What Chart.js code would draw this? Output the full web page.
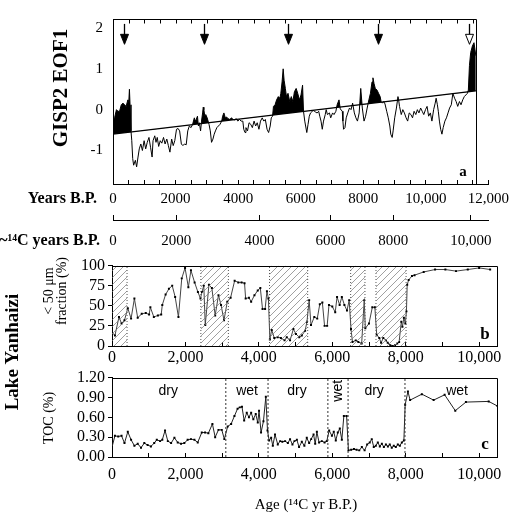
<!DOCTYPE html>
<html>
<head>
<meta charset="utf-8">
<script src="https://cdn.jsdelivr.net/npm/chart.js@4.4.1/dist/chart.umd.min.js"></script>
<style>
  html, body { margin: 0; background: #fff; }
  #fig { position: relative; width: 519px; height: 517px; overflow: hidden; }
  #fig canvas { position: absolute; left: 0; }
</style>
</head>
<body>
<div id="fig">
  <canvas id="panelA" width="519" height="255" style="top:0"></canvas>
  <canvas id="panelB" width="519" height="175" style="top:250px"></canvas>
  <canvas id="panelC" width="519" height="152" style="top:365px"></canvas>
</div>
<script>
// panel a: GISP2 EOF1 on calendar years B.P.
const eofYears = [
  0, 50, 110, 160, 210, 265, 320, 370, 420, 475,
  505, 525, 545, 575, 600, 630, 660, 715, 755, 800,
  840, 890, 940, 995, 1045, 1095, 1150, 1200, 1250, 1280,
  1335, 1375, 1415, 1460, 1510, 1560, 1615, 1665, 1720, 1770,
  1820, 1875, 1925, 1975, 2030, 2080, 2130, 2185, 2235, 2285,
  2340, 2390, 2440, 2495, 2545, 2600, 2630, 2660, 2700, 2730,
  2760, 2800, 2830, 2865, 2885, 2905, 2935, 2965, 3010, 3040,
  3070, 3110, 3150, 3195, 3235, 3275, 3320, 3370, 3420, 3475,
  3505, 3545, 3590, 3630, 3680, 3735, 3785, 3840, 3890, 3940,
  3990, 4045, 4095, 4150, 4180, 4220, 4250, 4300, 4350, 4405,
  4455, 4510, 4560, 4610, 4665, 4715, 4770, 4820, 4870, 4925,
  4975, 5025, 5060, 5100, 5130, 5180, 5230, 5285, 5335, 5365,
  5405, 5440, 5470, 5510, 5545, 5595, 5650, 5700, 5750, 5800,
  5855, 5905, 5960, 6010, 6060, 6090, 6130, 6195, 6235, 6275,
  6315, 6370, 6420, 6470, 6525, 6575, 6610, 6650, 6690, 6730,
  6785, 6815, 6855, 6920, 6960, 7020, 7065, 7125, 7165, 7225,
  7265, 7330, 7350, 7370, 7415, 7455, 7505, 7560, 7610, 7660,
  7715, 7765, 7815, 7870, 7920, 7970, 8025, 8075, 8125, 8180,
  8230, 8280, 8310, 8345, 8385, 8440, 8490, 8540, 8570, 8615,
  8655, 8695, 8750, 8800, 8850, 8880, 8925, 8955, 9005, 9060,
  9110, 9130, 9160, 9215, 9265, 9315, 9370, 9420, 9470, 9525,
  9575, 9625, 9680, 9730, 9780, 9835, 9885, 9935, 9990, 10040,
  10090, 10145, 10195, 10250, 10300, 10330, 10370, 10400, 10435, 10475,
  10515, 10555, 10610, 10660, 10710, 10760, 10815, 10865, 10920, 10970,
  11020, 11075, 11125, 11180, 11230, 11280, 11330, 11360, 11395, 11435,
  11490, 11540, 11570, 11600,
]
const eofValues = [
  -0.25, -0.2, 0.0, -0.04, -0.04, 0.12, 0.16, 0.12, 0.08, 0.24,
  0.2, 0.5, 0.12, -0.52, -0.76, -1.2, -1.36, -1.24, -1.4, -1.16,
  -0.96, -0.84, -1.0, -0.76, -0.96, -0.8, -0.68, -0.92, -1.16, -0.76,
  -0.64, -0.8, -0.68, -0.9, -0.76, -0.82, -0.68, -0.84, -0.72, -0.88,
  -1.04, -0.72, -0.88, -0.76, -0.48, -0.46, -0.52, -0.84, -0.88, -0.84,
  -0.86, -0.52, -0.4, -0.44, -0.36, -0.2, -0.28, -0.24, -0.16, -0.4,
  -0.32, -0.52, -0.28, -0.08, 0.06, 0.0, -0.16, -0.12, -0.2, -0.28,
  -0.36, -0.52, -0.8, -0.72, -0.6, -0.52, -0.44, -0.4, -0.36, -0.28,
  -0.16, -0.08, -0.2, -0.18, -0.22, -0.24, -0.2, -0.24, -0.25, -0.22,
  -0.28, -0.24, -0.28, -0.28, -0.48, -0.56, -0.44, -0.52, -0.32, -0.36,
  -0.44, -0.28, -0.4, -0.32, -0.48, -0.28, -0.2, -0.28, -0.24, -0.48,
  -0.56, -0.4, -0.2, -0.16, 0.08, 0.12, 0.24, 0.32, 0.28, 0.4,
  0.68, 1.0, 0.72, 0.52, 0.32, 0.4, 0.2, 0.32, 0.2, 0.44,
  0.52, 0.4, 0.24, 0.36, 0.6, -0.04, -0.28, -0.56, -0.36, -0.16,
  -0.08, -0.04, -0.02, -0.06, -0.08, -0.04, -0.16, -0.28, -0.48, -0.28,
  -0.12, 0.0, -0.12, -0.08, -0.2, -0.08, -0.12, -0.04, 0.12, 0.24,
  0.02, -0.04, -0.28, -0.48, -0.44, -0.2, -0.08, 0.04, 0.0, 0.16,
  -0.08, -0.2, -0.28, -0.08, 0.52, 0.04, -0.28, -0.16, 0.04, 0.24,
  0.4, 0.68, 0.78, 0.64, 0.52, 0.48, 0.4, 0.32, 0.2, 0.16,
  0.2, 0.14, -0.04, -0.2, -0.4, -0.6, -0.68, -0.52, -0.2, 0.04,
  0.32, 0.24, 0.08, -0.12, 0.0, -0.08, -0.2, -0.28, -0.08, -0.12,
  -0.2, -0.04, -0.12, 0.0, -0.08, 0.04, -0.04, -0.12, 0.0, 0.08,
  -0.16, -0.08, -0.28, 0.0, 0.16, 0.28, 0.12, -0.04, -0.28, -0.48,
  -0.6, -0.44, -0.28, -0.2, -0.08, 0.04, 0.12, 0.4, 0.28, 0.2,
  0.08, 0.2, 0.12, 0.24, 0.32, 0.36, 0.4, 0.48, 1.08, 1.4,
  1.56, 1.64, 1.48, 1.32,
]
const trendYears = [0, 11600]
const trendValues = [-0.6, 0.46]
const arrowYears = [350, 2920, 5590, 8470, 11380]
const arrowOpen = [false, false, false, false, true]
const eofTicks = [-1, 0, 1, 2]
const yearTicks = [0, 2000, 4000, 6000, 8000, 10000, 12000]
const yearLabels = ['0', '2000', '4000', '6000', '8000', '10,000', '12,000']
// ~14C axis: where each radiocarbon label sits on the calendar scale
const c14CalYears = [0, 2020, 4680, 6950, 8960, 11440]
const c14Labels = ['0', '2000', '4000', '6000', '8000', '10,000']

// panel b: < 50 um fraction, Lake Yanhaizi
const fracAge = [
  0, 80, 190, 260, 340, 430, 520, 610, 700, 810,
  920, 1010, 1045, 1140, 1250, 1340, 1370, 1460, 1550, 1640,
  1720, 1810, 1900, 1990, 2080, 2150, 2250, 2340, 2410, 2450,
  2500, 2540, 2640, 2720, 2810, 2900, 2970, 3050, 3140, 3230,
  3340, 3440, 3530, 3610, 3640, 3730, 3790, 3880, 3970, 4040,
  4100, 4170, 4220, 4260, 4300, 4350, 4420, 4510, 4600, 4700,
  4760, 4850, 4940, 5010, 5100, 5170, 5260, 5310, 5370, 5420,
  5510, 5590, 5660, 5730, 5790, 5860, 5910, 6000, 6080, 6130,
  6200, 6260, 6330, 6400, 6460, 6510, 6550, 6640, 6710, 6800,
  6870, 6900, 7000, 7090, 7160, 7210, 7280, 7330, 7390, 7460,
  7510, 7580, 7640, 7710, 7770, 7820, 7880, 7910, 7950, 7990,
  8020, 8040, 8080, 8170, 8240, 8490, 8800, 9080, 9370, 9690,
  10000, 10300,
]
const fracValue = [
  17, 13, 36, 28, 32, 47, 34, 59, 35, 40,
  41, 39, 48, 36, 38, 39, 51, 64, 71, 75,
  61, 36, 84, 97, 73, 94, 79, 67, 59, 67,
  75, 26, 76, 72, 38, 63, 51, 32, 55, 60,
  81, 79, 79, 78, 59, 60, 55, 63, 69, 72,
  46, 46, 68, 59, 8, 20, 10, 11, 10, 7,
  11, 7, 21, 15, 11, 13, 19, 30, 57, 26,
  36, 34, 52, 54, 25, 25, 51, 49, 42, 61,
  51, 61, 51, 44, 57, 21, 5, 7, 5, 3,
  57, 22, 28, 48, 48, 14, 10, 4, 10, 7,
  4, 1, 0, 1, 3, 5, 30, 24, 35, 28,
  43, 76, 82, 87, 88, 92, 95, 95, 93, 95,
  97, 95,
]
const hatchStart = [0, 2420, 4290, 6500, 7190]
const hatchEnd = [410, 3170, 5330, 6890, 8010]
const fracTicks = [0, 25, 50, 75, 100]

// panel c: TOC, Lake Yanhaizi
const tocAge = [
  0, 80, 170, 260, 340, 430, 520, 610, 700, 790,
  880, 970, 1060, 1150, 1220, 1310, 1370, 1445, 1520, 1610,
  1700, 1790, 1880, 1970, 2060, 2150, 2245, 2335, 2445, 2535,
  2625, 2735, 2810, 2900, 2990, 3060, 3150, 3245, 3335, 3420,
  3480, 3540, 3600, 3670, 3730, 3790, 3850, 3915, 3970, 4005,
  4060, 4125, 4190, 4235, 4280, 4335, 4380, 4440, 4515, 4580,
  4640, 4715, 4790, 4850, 4915, 4970, 5035, 5095, 5170, 5240,
  5305, 5370, 5425, 5490, 5535, 5580, 5640, 5715, 5790, 5850,
  5915, 5990, 6040, 6095, 6150, 6205, 6260, 6315, 6390, 6440,
  6515, 6590, 6660, 6735, 6805, 6880, 6950, 7020, 7075, 7130,
  7185, 7240, 7295, 7350, 7405, 7460, 7515, 7565, 7620, 7675,
  7730, 7785, 7840, 7895, 7950, 7985, 8060, 8120, 8440, 8760,
  9060, 9350, 9640, 10260, 10500,
]
const tocValue = [
  0.15, 0.32, 0.31, 0.32, 0.21, 0.38, 0.26, 0.17, 0.20, 0.14,
  0.21, 0.18, 0.16, 0.21, 0.26, 0.24, 0.26, 0.40, 0.24, 0.21,
  0.29, 0.22, 0.20, 0.21, 0.26, 0.27, 0.26, 0.22, 0.37, 0.37,
  0.36, 0.50, 0.30, 0.41, 0.41, 0.27, 0.46, 0.50, 0.62, 0.73,
  0.75, 0.76, 0.55, 0.67, 0.60, 0.67, 0.57, 0.65, 0.52, 0.70,
  0.37, 0.54, 0.91, 0.40, 0.25, 0.29, 0.17, 0.34, 0.19, 0.24,
  0.23, 0.24, 0.21, 0.27, 0.19, 0.24, 0.26, 0.15, 0.23, 0.17,
  0.29, 0.21, 0.27, 0.34, 0.20, 0.38, 0.22, 0.24, 0.22, 0.24,
  0.40, 0.32, 0.38, 0.25, 0.37, 0.43, 0.26, 0.62, 0.62, 0.10,
  0.11, 0.12, 0.11, 0.10, 0.15, 0.10, 0.19, 0.22, 0.27, 0.15,
  0.17, 0.22, 0.16, 0.20, 0.15, 0.19, 0.16, 0.19, 0.14, 0.17,
  0.15, 0.19, 0.17, 0.22, 0.25, 0.79, 0.99, 0.86, 0.95, 0.86,
  0.94, 0.70, 0.83, 0.84, 0.77,
]
const zoneBounds = [3100, 4250, 5880, 6430, 7980]
const zoneLabels = ['dry', 'wet', 'dry', 'wet', 'dry', 'wet']
const zoneLabelAge = [1530, 3680, 5040, 6160, 7140, 9400]
const tocTicks = [0, 0.3, 0.6, 0.9, 1.2]

const ageTicks = [0, 2000, 4000, 6000, 8000, 10000]
const ageLabels = ['0', '2,000', '4,000', '6,000', '8,000', '10,000']

const serif = '"Liberation Serif", "Times New Roman", serif'
const sans = '"Liberation Sans", Arial, sans-serif'
Chart.defaults.color = '#000'
Chart.defaults.font.family = serif

function stepList(max, step) {
  const out = []
  for (let v = 0; v <= max; v += step) out.push(v)
  return out
}
const pts = (xs, ys) => xs.map((x, i) => ({ x, y: ys[i] }))

// free text, either in canvas pixels (x, y) or data values (xv, yv)
const notes = {
  id: 'notes',
  afterDraw(chart, args, opts) {
    const { ctx, scales } = chart
    for (const n of opts.items) {
      const px = n.xv !== undefined ? scales.x.getPixelForValue(n.xv) : n.x
      const py = n.yv !== undefined ? scales.y.getPixelForValue(n.yv) : n.y
      ctx.save()
      ctx.translate(px, py)
      if (n.rotate) ctx.rotate(-Math.PI / 2)
      ctx.font = n.font
      ctx.fillStyle = '#000'
      ctx.textAlign = n.align || 'center'
      ctx.textBaseline = 'middle'
      ctx.fillText(n.text, 0, 0)
      ctx.restore()
    }
  },
}

// top and right edges of a panel, with optional inward ticks on top
const frame = {
  id: 'frame',
  afterDatasetsDraw(chart, args, opts) {
    const { ctx, chartArea: area, scales: { x } } = chart
    const right = opts.endValue !== undefined ? Math.round(x.getPixelForValue(opts.endValue)) + 0.5 : Math.round(area.right) - 0.5
    const top = Math.round(area.top) + 0.5
    const bottom = Math.round(area.bottom) + 0.5
    ctx.save()
    ctx.strokeStyle = '#000'
    ctx.lineWidth = 1
    ctx.beginPath()
    ctx.moveTo(area.left, top)
    ctx.lineTo(right, top)
    ctx.lineTo(right, area.bottom)
    if (opts.bottomLine) {
      ctx.moveTo(area.left, bottom)
      ctx.lineTo(area.right, bottom)
    }
    for (const v of opts.ticks || []) {
      const p = Math.round(x.getPixelForValue(v)) + 0.5
      ctx.moveTo(p, top)
      ctx.lineTo(p, top + 4)
    }
    ctx.stroke()
    ctx.restore()
  },
}

const arrows = {
  id: 'arrows',
  afterDatasetsDraw(chart) {
    const { ctx, scales: { x, y } } = chart
    arrowYears.forEach((yr, i) => {
      const px = Math.round(x.getPixelForValue(yr)) + 0.5
      const top = y.getPixelForValue(2.1)
      const tip = y.getPixelForValue(1.6)
      ctx.save()
      ctx.strokeStyle = '#000'
      ctx.lineWidth = 1.3
      ctx.beginPath()
      ctx.moveTo(px, top)
      ctx.lineTo(px, tip - 9)
      ctx.stroke()
      ctx.beginPath()
      ctx.moveTo(px - 4, tip - 10)
      ctx.lineTo(px + 4, tip - 10)
      ctx.lineTo(px, tip)
      ctx.closePath()
      ctx.fillStyle = arrowOpen[i] ? '#fff' : '#000'
      ctx.fill()
      ctx.lineWidth = 1
      ctx.stroke()
      ctx.restore()
    })
  },
}

const plain = {
  responsive: false,
  animation: false,
  events: [],
}
const quiet = { legend: { display: false }, tooltip: { enabled: false } }

// ---------- panel a ----------
const yearAxisTicks = stepList(12000, 500)
new Chart(document.getElementById('panelA'), {
  type: 'line',
  data: {
    datasets: [
      {
        data: pts(eofYears, eofValues),
        borderColor: '#000',
        borderWidth: 1,
        pointRadius: 0,
        tension: 0,
        fill: { target: 1, above: '#000', below: 'rgba(0,0,0,0)' },
      },
      {
        data: pts(trendYears, trendValues),
        borderColor: '#000',
        borderWidth: 1.3,
        pointRadius: 0,
        fill: false,
      },
    ],
  },
  options: {
    ...plain,
    layout: { autoPadding: false, padding: { left: 0, top: 15.5, right: 19, bottom: 0 } },
    plugins: {
      ...quiet,
      frame: { endValue: 11600, ticks: stepList(11500, 500), bottomLine: true },
      notes: {
        items: [
          { text: 'GISP2 EOF1', x: 62, y: 88, rotate: true, font: `bold 21px ${serif}` },
          { text: 'Years B.P.', x: 97, y: 199, align: 'right', font: `bold 16px ${serif}` },
          { text: '~\u00b9\u2074C years B.P.', x: 100, y: 241, align: 'right', font: `bold 16px ${serif}` },
          { text: 'a', xv: 11190, yv: -1.53, font: `bold 15px ${serif}` },
        ],
      },
    },
    scales: {
      x: {
        type: 'linear',
        min: 0,
        max: 12000,
        weight: 0,
        afterBuildTicks: (s) => { s.ticks = yearAxisTicks.map((v) => ({ value: v })) },
        afterFit: (s) => { s.height = 36 },
        ticks: {
          autoSkip: false,
          maxRotation: 0,
          padding: 10,
          font: { size: 15 },
          callback: (v) => { const i = yearTicks.indexOf(v); return i >= 0 ? yearLabels[i] : '' },
        },
        grid: { drawOnChartArea: false, tickLength: -4, color: '#000' },
        border: { color: '#000', width: 1 },
      },
      x2: {
        type: 'linear',
        position: 'bottom',
        min: 0,
        max: 12000,
        weight: 1,
        afterBuildTicks: (s) => { s.ticks = c14CalYears.map((v) => ({ value: v })) },
        afterFit: (s) => { s.height = 35 },
        ticks: {
          autoSkip: false,
          maxRotation: 0,
          padding: 17,
          font: { size: 15 },
          callback: (v, i) => c14Labels[i],
        },
        grid: { drawOnChartArea: false, tickLength: -5, color: '#000' },
        border: { color: '#000', width: 1 },
      },
      y: {
        min: -1.82,
        max: 2.22,
        afterBuildTicks: (s) => { s.ticks = eofTicks.map((v) => ({ value: v })) },
        afterFit: (s) => { s.width = 113 },
        ticks: { autoSkip: false, padding: 10, font: { size: 15 } },
        grid: { drawOnChartArea: false, drawTicks: false },
        border: { color: '#000', width: 1 },
      },
    },
  },
  plugins: [frame, arrows, notes],
})

// ---------- panels b and c share the 14C age axis ----------
const ageAxisTicks = stepList(10000, 1000)
function ageAxis(pad, height) {
  return {
    type: 'linear',
    min: 0,
    max: 10500,
    afterBuildTicks: (s) => { s.ticks = ageAxisTicks.map((v) => ({ value: v })) },
    afterFit: (s) => { s.height = height },
    ticks: {
      autoSkip: false,
      maxRotation: 0,
      padding: pad,
      font: { size: 16 },
      callback: (v) => { const i = ageTicks.indexOf(v); return i >= 0 ? ageLabels[i] : '' },
    },
    grid: { drawOnChartArea: false, tickLength: -4, color: '#000' },
    border: { color: '#000', width: 1 },
  }
}

// ---------- panel b ----------
const ctxB = document.getElementById('panelB').getContext('2d')
const hatch = (() => {
  const c = document.createElement('canvas')
  c.width = 7
  c.height = 7
  const g = c.getContext('2d')
  g.strokeStyle = '#777'
  g.lineWidth = 0.7
  g.beginPath()
  g.moveTo(0, 7); g.lineTo(7, 0)
  g.moveTo(-2, 2); g.lineTo(2, -2)
  g.moveTo(5, 9); g.lineTo(9, 5)
  g.stroke()
  return ctxB.createPattern(c, 'repeat')
})()

const hatchSets = hatchStart.map((s, i) => ({
  data: [{ x: s, y: 100 }, { x: hatchEnd[i], y: 100 }],
  borderWidth: 0,
  pointRadius: 0,
  backgroundColor: hatch,
  fill: 'origin',
}))
const hatchEdges = hatchStart.concat(hatchEnd).filter((v) => v > 0).map((v) => ({
  data: [{ x: v, y: 0 }, { x: v, y: 100 }],
  borderColor: '#555',
  borderWidth: 1,
  borderDash: [1, 2],
  pointRadius: 0,
  fill: false,
}))

new Chart(ctxB, {
  type: 'line',
  data: {
    datasets: [
      ...hatchSets,
      ...hatchEdges,
      {
        data: pts(fracAge, fracValue),
        borderColor: '#444',
        borderWidth: 1,
        pointStyle: 'rect',
        pointRadius: 1.4,
        pointBackgroundColor: '#000',
        pointBorderColor: '#000',
        pointBorderWidth: 0,
        tension: 0,
        fill: false,
      },
    ],
  },
  options: {
    ...plain,
    layout: { autoPadding: false, padding: { left: 0, top: 15.5, right: 21.5, bottom: 0 } },
    plugins: {
      ...quiet,
      frame: {},
      notes: {
        items: [
          { text: 'Lake Yanhaizi', x: 13, y: 102, rotate: true, font: `bold 19px ${serif}` },
          { text: '< 50 \u03bcm', x: 49, y: 41, rotate: true, font: `14px ${serif}` },
          { text: 'fraction (%)', x: 62, y: 41, rotate: true, font: `14px ${serif}` },
          { text: 'b', xv: 10160, yv: 14, font: `bold 17px ${serif}` },
        ],
      },
    },
    scales: {
      x: ageAxis(6, 79),
      y: {
        min: 0,
        max: 100,
        afterBuildTicks: (s) => { s.ticks = fracTicks.map((v) => ({ value: v })) },
        afterFit: (s) => { s.width = 112 },
        ticks: { autoSkip: false, padding: 3, font: { size: 16 } },
        grid: { drawOnChartArea: false, tickLength: 4, color: '#000' },
        border: { color: '#000', width: 1 },
      },
    },
  },
  plugins: [frame, notes],
})

// ---------- panel c ----------
const zoneLines = zoneBounds.map((v) => ({
  data: [{ x: v, y: 0 }, { x: v, y: 1.2 }],
  borderColor: '#333',
  borderWidth: 1,
  borderDash: [2, 2],
  pointRadius: 0,
  fill: false,
}))

new Chart(document.getElementById('panelC'), {
  type: 'line',
  data: {
    datasets: [
      ...zoneLines,
      {
        data: pts(tocAge, tocValue),
        borderColor: '#222',
        borderWidth: 1,
        pointStyle: 'rect',
        pointRadius: 1.4,
        pointBackgroundColor: '#000',
        pointBorderColor: '#000',
        pointBorderWidth: 0,
        tension: 0,
        fill: false,
      },
    ],
  },
  options: {
    ...plain,
    layout: { autoPadding: false, padding: { left: 0, top: 11, right: 21.5, bottom: 0 } },
    plugins: {
      ...quiet,
      frame: {},
      notes: {
        items: [
          { text: 'TOC (%)', x: 49, y: 53, rotate: true, font: `14px ${serif}` },
          { text: 'Age (\u00b9\u2074C yr B.P.)', x: 306, y: 140, font: `15px ${serif}` },
          { text: 'c', xv: 10160, yv: 0.19, font: `bold 17px ${serif}` },
          ...zoneLabels.map((t, i) => ({ text: t, xv: zoneLabelAge[i], yv: 1.0, rotate: i === 3, font: `14px ${sans}` })),
        ],
      },
    },
    scales: {
      x: ageAxis(12, 60),
      y: {
        min: 0,
        max: 1.2,
        afterBuildTicks: (s) => { s.ticks = tocTicks.map((v) => ({ value: v })) },
        afterFit: (s) => { s.width = 112 },
        ticks: { autoSkip: false, padding: 3, font: { size: 16 }, callback: (v) => v.toFixed(2) },
        grid: { drawOnChartArea: false, tickLength: 4, color: '#000' },
        border: { color: '#000', width: 1 },
      },
    },
  },
  plugins: [frame, notes],
})
</script>
</body>
</html>
